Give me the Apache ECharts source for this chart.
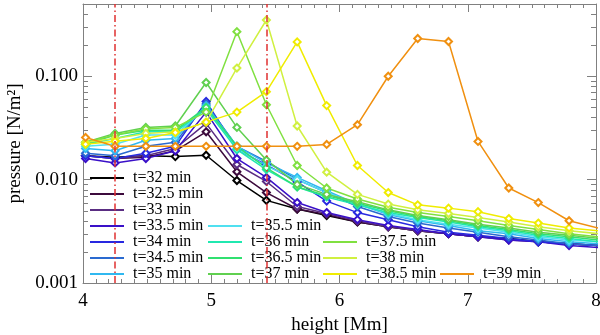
<!DOCTYPE html>
<html>
<head>
<meta charset="utf-8">
<script src="https://cdn.jsdelivr.net/npm/echarts@6/dist/echarts.min.js"></script>
<style>
  html, body { margin: 0; padding: 0; background: #fff; }
  #main { width: 600px; height: 335px; }
</style>
</head>
<body>
<div id="main"></div>
<script>
// heights [Mm] of the sample points
var heights = [4.02, 4.25, 4.49, 4.72, 4.96, 5.2, 5.43, 5.67, 5.9, 6.14, 6.38, 6.61, 6.85, 7.08, 7.32, 7.55, 7.79, 8.02];

// pressure [N/m^2] per time step
var t32   = [0.017, 0.0165, 0.017, 0.0167, 0.0172, 0.0098, 0.0063, 0.0052, 0.0045, 0.0039, 0.0035, 0.0032, 0.0030, 0.0028, 0.0027, 0.0025, 0.0024, 0.0023];
var t32_5 = [0.017, 0.016, 0.0165, 0.019, 0.029, 0.0119, 0.0075, 0.0052, 0.0046, 0.0039, 0.0035, 0.0032, 0.0030, 0.0028, 0.0027, 0.0025, 0.0024, 0.0023];
var t33   = [0.017, 0.016, 0.017, 0.020, 0.035, 0.014, 0.0096, 0.0055, 0.0047, 0.0040, 0.0035, 0.0032, 0.0030, 0.0028, 0.0026, 0.0025, 0.0024, 0.0023];
var t33_5 = [0.016, 0.0145, 0.016, 0.019, 0.045, 0.016, 0.0105, 0.0060, 0.0048, 0.0041, 0.0036, 0.0033, 0.0030, 0.0028, 0.0026, 0.0025, 0.0023, 0.0022];
var t34   = [0.017, 0.016, 0.018, 0.021, 0.057, 0.0195, 0.0139, 0.0095, 0.0062, 0.0048, 0.0041, 0.0035, 0.0031, 0.0029, 0.0027, 0.0025, 0.0024, 0.0023];
var t34_5 = [0.018, 0.017, 0.021, 0.023, 0.054, 0.021, 0.015, 0.0100, 0.0075, 0.0055, 0.0044, 0.0038, 0.0034, 0.0031, 0.0028, 0.0026, 0.0024, 0.0023];
var t35   = [0.020, 0.019, 0.024, 0.025, 0.052, 0.021, 0.0145, 0.0105, 0.0078, 0.0058, 0.0046, 0.0040, 0.0036, 0.0032, 0.0030, 0.0027, 0.0025, 0.0024];
var t35_5 = [0.021, 0.022, 0.027, 0.027, 0.050, 0.020, 0.0135, 0.0100, 0.0075, 0.0058, 0.0047, 0.0041, 0.0037, 0.0034, 0.0031, 0.0028, 0.0026, 0.0025];
var t36   = [0.022, 0.025, 0.029, 0.029, 0.048, 0.0195, 0.0125, 0.0085, 0.0068, 0.0057, 0.0048, 0.0043, 0.0039, 0.0035, 0.0032, 0.0029, 0.0027, 0.0025];
var t36_5 = [0.022, 0.027, 0.030, 0.030, 0.050, 0.021, 0.013, 0.0085, 0.0070, 0.0059, 0.0050, 0.0044, 0.0040, 0.0036, 0.0033, 0.0030, 0.0028, 0.0026];
var t37   = [0.023, 0.028, 0.032, 0.033, 0.087, 0.032, 0.0155, 0.0090, 0.0072, 0.0061, 0.0051, 0.0045, 0.0041, 0.0037, 0.0034, 0.0031, 0.0029, 0.0027];
var t37_5 = [0.023, 0.027, 0.031, 0.032, 0.045, 0.27, 0.053, 0.0137, 0.0083, 0.0065, 0.0054, 0.0048, 0.0044, 0.0040, 0.0036, 0.0033, 0.0030, 0.0028];
var t38   = [0.023, 0.025, 0.028, 0.029, 0.036, 0.12, 0.35, 0.033, 0.0118, 0.0072, 0.0058, 0.0051, 0.0047, 0.0043, 0.0039, 0.0035, 0.0032, 0.0030];
var t38_5 = [0.022, 0.0235, 0.025, 0.0285, 0.036, 0.045, 0.071, 0.215, 0.052, 0.0137, 0.0075, 0.0057, 0.0053, 0.0049, 0.0042, 0.0038, 0.0034, 0.0032];
var t39   = [0.0256, 0.021, 0.021, 0.021, 0.021, 0.021, 0.021, 0.021, 0.0219, 0.034, 0.10, 0.232, 0.217, 0.0234, 0.0083, 0.0060, 0.0040, 0.0034];

var times = [32, 32.5, 33, 33.5, 34, 34.5, 35, 35.5, 36, 36.5, 37, 37.5, 38, 38.5, 39];
var pressures = [t32, t32_5, t33, t33_5, t34, t34_5, t35, t35_5, t36, t36_5, t37, t37_5, t38, t38_5, t39];

// dash-dot marker heights
var markHeights = [4.25, 5.43];

// axis ranges / ticks
var xTicks = [4, 5, 6, 7, 8];
var yMin = 0.001, yMax = 0.5;

var colors = ['#000000', '#3c0a3c', '#5a2d82', '#3a10c8', '#2828e0', '#2a6ad0', '#30b8f0',
              '#50e0f0', '#20e8b0', '#30e070', '#60d050', '#80e040', '#d0f040', '#f0ec00', '#f09010'];

var FONT = 'Liberation Serif';
var AXIS_COLOR = '#808080';
var G = { left: 83, right: 4, top: 4, bottom: 52, containLabel: false, outerBoundsMode: 'none' };

var names = times.map(function (t) { return 't=' + t + ' min'; });

var series = pressures.map(function (arr, i) {
    var s = {
        name: names[i],
        type: 'line',
        data: arr.map(function (v, j) { return [heights[j], v]; }),
        color: colors[i],
        symbol: 'emptyDiamond',
        symbolSize: 7,
        lineStyle: { width: 1.5 },
        itemStyle: { borderWidth: 1.2 },
        animation: false
    };
    if (i === 0) {
        s.markLine = {
            silent: true,
            symbol: 'none',
            label: { show: false },
            lineStyle: { color: '#e03030', type: [7, 3, 1.5, 3], width: 1.5 },
            data: markHeights.map(function (h) { return { xAxis: h }; })
        };
    }
    return s;
});

// legend columns, bottom aligned
function legendCol(left, from, to) {
    return {
        left: left,
        bottom: 53,
        orient: 'vertical',
        padding: 0,
        itemGap: 0,
        itemWidth: 34,
        itemHeight: 2,
        icon: 'rect',
        data: names.slice(from, to),
        textStyle: { fontFamily: FONT, fontSize: 16, lineHeight: 14.7, color: '#000', padding: [0, 0, 0, 4] }
    };
}

var tickFont = { fontFamily: FONT, fontSize: 19, color: '#000' };

var option = {
    backgroundColor: '#fff',
    animation: false,
    grid: G,
    legend: [legendCol(90, 0, 7), legendCol(208, 7, 11), legendCol(323, 11, 14), legendCol(440, 14, 15)],
    xAxis: [{
        type: 'value', min: 4, max: 8, interval: 1,
        name: 'height [Mm]', nameLocation: 'middle', nameGap: 30,
        nameTextStyle: tickFont,
        axisLine: { lineStyle: { color: AXIS_COLOR } },
        axisTick: { inside: true, length: 8, lineStyle: { color: AXIS_COLOR } },
        minorTick: { show: true, splitNumber: 10, length: 4, lineStyle: { color: AXIS_COLOR } },
        axisLabel: Object.assign({ margin: 9, formatter: function (v) { return xTicks.indexOf(v) >= 0 ? String(v) : ''; } }, tickFont),
        splitLine: { show: false }
    }, {
        type: 'value', min: 4, max: 8, interval: 1, position: 'top',
        axisLine: { lineStyle: { color: AXIS_COLOR } },
        axisTick: { inside: true, length: 8, lineStyle: { color: AXIS_COLOR } },
        minorTick: { show: true, splitNumber: 10, length: 4, lineStyle: { color: AXIS_COLOR } },
        axisLabel: { show: false },
        splitLine: { show: false }
    }],
    yAxis: [{
        type: 'log', logBase: 10, min: yMin, max: yMax,
        name: 'pressure [N/m²]', nameLocation: 'middle', nameGap: 55,
        nameTextStyle: tickFont,
        axisLine: { show: true, lineStyle: { color: AXIS_COLOR } },
        axisTick: { show: true, inside: true, length: 9, lineStyle: { color: AXIS_COLOR } },
        axisLabel: Object.assign({
            margin: 5,
            showMaxLabel: false,
            formatter: function (v) {
                var l = Math.log10(v);
                return Math.abs(l - Math.round(l)) < 1e-6 ? v.toFixed(3) : '';
            }
        }, tickFont),
        splitLine: { show: false }
    }, {
        type: 'log', logBase: 10, min: yMin, max: yMax, position: 'right',
        axisLine: { show: true, lineStyle: { color: AXIS_COLOR } },
        axisTick: { show: true, inside: true, length: 9, lineStyle: { color: AXIS_COLOR } },
        axisLabel: { show: false },
        splitLine: { show: false }
    }],
    series: series
};

var chart = echarts.init(document.getElementById('main'), null, { renderer: 'canvas' });
chart.setOption(option);

// log minor ticks (2..9 per decade) on both y sides
var xl = G.left, xr = 600 - G.right;
var minor = [];
for (var d = -3; d <= 0; d++) {
    for (var k = 2; k <= 9; k++) {
        var v = k * Math.pow(10, d);
        if (v >= yMax) continue;
        var y = Math.round(chart.convertToPixel({ yAxisIndex: 0 }, v)) + 0.5;
        minor.push({ type: 'line', silent: true, shape: { x1: xl, y1: y, x2: xl + 5, y2: y }, style: { stroke: AXIS_COLOR, lineWidth: 1 } });
        minor.push({ type: 'line', silent: true, shape: { x1: xr - 5, y1: y, x2: xr, y2: y }, style: { stroke: AXIS_COLOR, lineWidth: 1 } });
    }
}
chart.setOption({ graphic: minor });
</script>
</body>
</html>
